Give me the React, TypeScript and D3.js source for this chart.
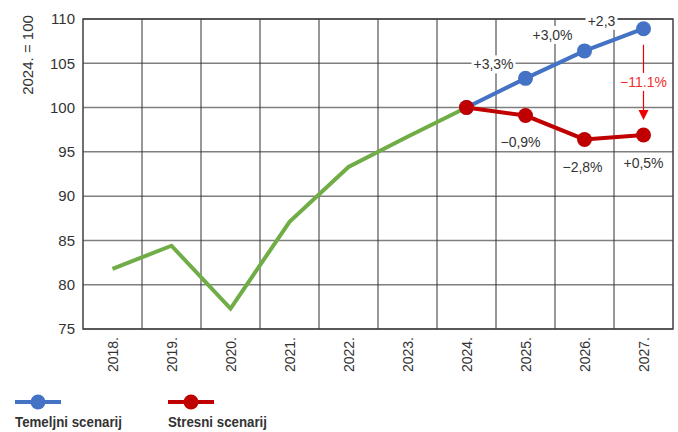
import React from "react";
import * as d3 from "d3";

const years = ["2018.", "2019.", "2020.", "2021.", "2022.", "2023.", "2024.", "2025.", "2026.", "2027."];
const historyYears = ["2018.", "2019.", "2020.", "2021.", "2022.", "2023.", "2024."];
const historyValues = [81.8, 84.4, 77.3, 87.1, 93.3, 96.7, 100];
const scenarioYears = ["2024.", "2025.", "2026.", "2027."];
const baselineValues = [100, 103.3, 106.4, 108.9];
const stressValues = [100, 99.1, 96.4, 96.9];
const baselineLabels = ["", "+3,3%", "+3,0%", "+2,3"];
const stressLabels = ["", "\u22120,9%", "\u22122,8%", "+0,5%"];
const gapLabel = "\u221211.1%";
const yTicks = [75, 80, 85, 90, 95, 100, 105, 110];
const yTitle = "2024. = 100";
const legendNames = ["Temeljni scenarij", "Stresni scenarij"];

const BLUE = "#4472C4";
const RED = "#C00000";
const GREEN = "#70AD47";
const FONT = "'Liberation Sans', Arial, sans-serif";

export default function App() {
  const W = 678, H = 432;
  const left = 83, right = 673, top = 19, bottom = 329;
  const x = d3.scaleBand<string>().domain(years).range([left, right]).padding(0);
  const y = d3.scaleLinear().domain([75, 110]).range([bottom, top]);
  const cx = (k: string) => (x(k) as number) + x.bandwidth() / 2;
  const line = d3.line<[string, number]>().x(d => cx(d[0])).y(d => y(d[1]));

  const hist = historyYears.map((k, i) => [k, historyValues[i]] as [string, number]);
  const base = scenarioYears.map((k, i) => [k, baselineValues[i]] as [string, number]);
  const stress = scenarioYears.map((k, i) => [k, stressValues[i]] as [string, number]);

  const baseOffsets = [[0, 0], [-32, -14], [-32, -16], [-42, -8]];
  const stressOffsets = [[0, 0], [-5, 27], [-2, 28], [0, 28]];
  const baseWidths = [0, 44, 44, 32];

  const last = scenarioYears[scenarioYears.length - 1];
  const ax = cx(last);
  const arrowTop = y(baselineValues[3]) + 16;
  const arrowTip = y(stressValues[3]) - 16;
  const gapY = (arrowTop + arrowTip) / 2;

  return (
    <svg width={W} height={H} style={{ position: "absolute", left: 0, top: 0, background: "#fff" }} fontFamily={FONT}>
      <rect x={0} y={0} width={W} height={H} fill="#fff" />
      {/* horizontal grid */}
      {yTicks.map(t => (
        <line key={"h" + t} x1={left} x2={right} y1={y(t)} y2={y(t)} stroke="#7f7f7f" strokeWidth={1.5} />
      ))}
      {/* vertical grid */}
      {years.slice(1).map(k => (
        <line key={"v" + k} x1={x(k)} x2={x(k)} y1={top} y2={bottom} stroke="#333" strokeWidth={1} />
      ))}
      <rect x={left} y={top} width={right - left} height={bottom - top} fill="none" stroke="#404040" strokeWidth={1.5} />
      {/* y ticks */}
      {yTicks.map(t => (
        <text key={"t" + t} x={75} y={y(t)} dy="0.35em" textAnchor="end" fontSize={15} fill="#333">{t}</text>
      ))}
      <text transform={`translate(33,55) rotate(-90)`} textAnchor="middle" fontSize={15} fill="#333">{yTitle}</text>
      {/* x labels */}
      {years.map(k => (
        <text key={"x" + k} transform={`translate(${cx(k) + 5},337) rotate(-90)`} textAnchor="end" fontSize={14} fill="#333">{k}</text>
      ))}
      {/* lines */}
      <path d={line(hist) || ""} fill="none" stroke={GREEN} strokeWidth={4} />
      <path d={line(base) || ""} fill="none" stroke={BLUE} strokeWidth={4} />
      <path d={line(stress) || ""} fill="none" stroke={RED} strokeWidth={4} />
      {base.map(d => <circle key={"b" + d[0]} cx={cx(d[0])} cy={y(d[1])} r={7.5} fill={BLUE} />)}
      {stress.map(d => <circle key={"s" + d[0]} cx={cx(d[0])} cy={y(d[1])} r={7.5} fill={RED} />)}
      {/* baseline labels */}
      {base.map((d, i) => baselineLabels[i] ? (
        <g key={"bl" + i} transform={`translate(${cx(d[0]) + baseOffsets[i][0]},${y(d[1]) + baseOffsets[i][1]})`}>
          <rect x={-baseWidths[i] / 2} y={-9} width={baseWidths[i]} height={18} fill="#fff" />
          <text textAnchor="middle" dy="0.35em" fontSize={14} fill="#333">{baselineLabels[i]}</text>
        </g>
      ) : null)}
      {stress.map((d, i) => stressLabels[i] ? (
        <text key={"sl" + i} x={cx(d[0]) + stressOffsets[i][0]} y={y(d[1]) + stressOffsets[i][1]} dy="0.35em" textAnchor="middle" fontSize={14} fill="#333">{stressLabels[i]}</text>
      ) : null)}
      {/* gap arrow */}
      <line x1={ax} x2={ax} y1={arrowTop} y2={arrowTip - 6} stroke="#e00" strokeWidth={1.2} />
      <path d={`M${ax - 5},${arrowTip - 9} L${ax + 5},${arrowTip - 9} L${ax},${arrowTip + 1} Z`} fill="#e00" />
      <rect x={ax - 24} y={gapY - 9} width={48} height={18} fill="#fff" />
      <text x={ax} y={gapY} dy="0.35em" textAnchor="middle" fontSize={14} fill="#f03030">{gapLabel}</text>
      {/* legend */}
      {[BLUE, RED].map((c, i) => {
        const lx = 15 + i * 153;
        return (
          <g key={"lg" + i}>
            <line x1={lx} x2={lx + 46} y1={402} y2={402} stroke={c} strokeWidth={4} />
            <circle cx={lx + 23} cy={402} r={7.5} fill={c} />
            <text x={lx} y={427} fontSize={15} fontWeight="bold" fill="#333" textLength={i === 0 ? 107 : 99} lengthAdjust="spacingAndGlyphs" fontFamily="'Liberation Sans Narrow', 'Liberation Sans', Arial, sans-serif">{legendNames[i]}</text>
          </g>
        );
      })}
    </svg>
  );
}
